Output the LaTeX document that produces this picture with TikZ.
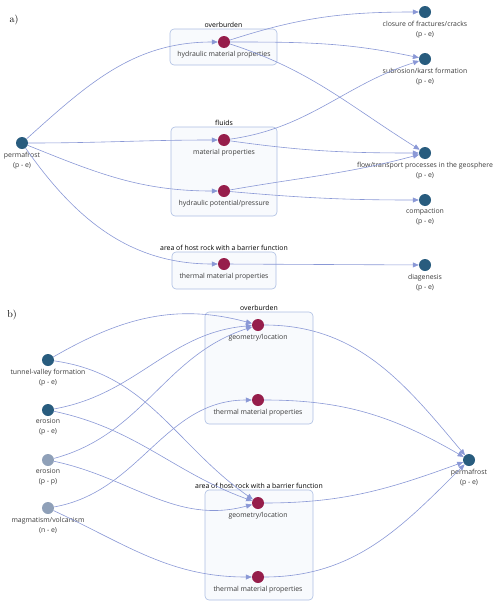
\documentclass[tikz,border=0pt]{standalone}
\usepackage{fontspec}
\setsansfont{Open Sans}
\usetikzlibrary{arrows.meta, positioning}
\definecolor{effblue}{RGB}{40,92,126}
\definecolor{weakgray}{RGB}{143,160,184}
\definecolor{featred}{RGB}{150,30,75}
\definecolor{linkblue}{RGB}{138,152,214}
\definecolor{grpline}{RGB}{172,190,226}
\definecolor{grpfill}{RGB}{248,250,253}
\definecolor{txtgray}{RGB}{60,60,60}
\tikzset{
  effect/.style={circle, fill=effblue, minimum size=12pt, inner sep=0pt},
  weak/.style={circle, fill=weakgray, minimum size=12pt, inner sep=0pt},
  feature/.style={circle, fill=featred, minimum size=12pt, inner sep=0pt},
  txt/.style={font=\sffamily\fontsize{6.9}{10}\selectfont, text=txtgray, align=center, inner sep=1pt},
  group/.style={draw=grpline, fill=grpfill, rounded corners=4pt, line width=0.6pt},
  link/.style={draw=linkblue, line width=0.6pt, -{Triangle[length=6pt,width=5pt]}},
  every label/.style={label distance=1.5pt}
}

\begin{document}
\begin{tikzpicture}[x=1pt, y=-1pt]
    \useasboundingbox (0,0) rectangle (500,608);

    % a) permafrost as cause
    \node at (14,20) {a)};
    \node[group, minimum width=107pt, minimum height=36pt, label={[txt, text=black, label distance=0pt]above:overburden}] (ovbA) at (223.5,47) {};
    \node[group, minimum width=106pt, minimum height=89pt, label={[txt, text=black, label distance=0pt]above:fluids}] (fluA) at (224,171.5) {};
    \node[group, minimum width=104pt, minimum height=37pt, label={[txt, text=black, label distance=0pt]above:area of host rock with a barrier function}] (hrA) at (224,270.5) {};

    \node[effect, label={[txt]below:permafrost\\(p - e)}] (pfA) at (22,143) {};

    \node[feature, label={[txt]below:hydraulic material properties}] (hmp) at (224,42) {};
    \node[feature, label={[txt]below:material properties}] (mp) at (224,140) {};
    \node[feature, label={[txt]below:hydraulic potential/pressure}] (hpp) at (224,191) {};
    \node[feature, label={[txt]below:thermal material properties}] (tmpA) at (224,264) {};

    \node[effect, label={[txt]below:closure of fractures/cracks\\(p - e)}] (closure) at (425,12) {};
    \node[effect, label={[txt]below:subrosion/karst formation\\(p - e)}] (subros) at (425,59) {};
    \node[effect, label={[txt]below:flow/transport processes in the geosphere\\(p - e)}] (flow) at (425,153) {};
    \node[effect, label={[txt]below:compaction\\(p - e)}] (compact) at (425,200) {};
    \node[effect, label={[txt]below:diagenesis\\(p - e)}] (diagen) at (425,265) {};

    \draw[link] (pfA) to[out=42, in=180] (hmp);
    \draw[link] (pfA) to[out=0, in=180] (mp);
    \draw[link] (pfA) to[out=-22, in=180] (hpp);
    \draw[link] (pfA) to[out=-55, in=180] (tmpA);
    \draw[link] (hmp) to[out=18, in=180] (closure);
    \draw[link] (hmp) to[out=0, in=168] (subros);
    \draw[link] (hmp) to[out=-18, in=148] (flow);
    \draw[link] (mp) to[out=8, in=198] (subros);
    \draw[link] (mp) to[out=-8, in=180] (flow);
    \draw[link] (hpp) to[out=10, in=195] (flow);
    \draw[link] (hpp) to[out=-5, in=180] (compact);
    \draw[link] (tmpA) -- (diagen);

    % b) permafrost as effect
    \node at (12,315) {b)};
    \node[group, minimum width=108pt, minimum height=112pt, label={[txt, text=black, label distance=0pt]above:overburden}] (ovbB) at (259,368) {};
    \node[group, minimum width=108pt, minimum height=110pt, label={[txt, text=black, label distance=0pt]above:area of host rock with a barrier function}] (hrB) at (259,545) {};

    \node[effect, label={[txt]below:tunnel-valley formation\\(p - e)}] (tunnel) at (48,360) {};
    \node[effect, label={[txt]below:erosion\\(p - e)}] (erospe) at (48,410) {};
    \node[weak, label={[txt]below:erosion\\(p - p)}] (erospp) at (48,460) {};
    \node[weak, label={[txt]below:magmatism/volcanism\\(n - e)}] (magma) at (48,508) {};

    \node[feature, label={[txt]below:geometry/location}] (geoOvb) at (258,325) {};
    \node[feature, label={[txt]below:thermal material properties}] (thmOvb) at (258,400) {};
    \node[feature, label={[txt]below:geometry/location}] (geoHr) at (258,503) {};
    \node[feature, label={[txt]below:thermal material properties}] (thmHr) at (258,577) {};

    \node[effect, label={[txt]below:permafrost\\(p - e)}] (pfB) at (469,460) {};

    \draw[link] (tunnel) to[out=30, in=165] (geoOvb);
    \draw[link] (tunnel) to[out=-8, in=145] (geoHr);
    \draw[link] (erospe) to[out=10, in=185] (geoOvb);
    \draw[link] (erospe) to[out=-12, in=160] (geoHr);
    \draw[link] (erospp) to[out=15, in=198] (geoOvb);
    \draw[link] (erospp) to[out=-12, in=195] (geoHr);
    \draw[link] (magma) to[out=10, in=180] (thmOvb);
    \draw[link] (magma) to[out=-25, in=180] (thmHr);
    \draw[link] (geoOvb) to[out=0, in=130] (pfB);
    \draw[link] (thmOvb) to[out=0, in=150] (pfB);
    \draw[link] (geoHr) to[out=0, in=200] (pfB);
    \draw[link] (thmHr) to[out=0, in=225] (pfB);
\end{tikzpicture}
\end{document}
